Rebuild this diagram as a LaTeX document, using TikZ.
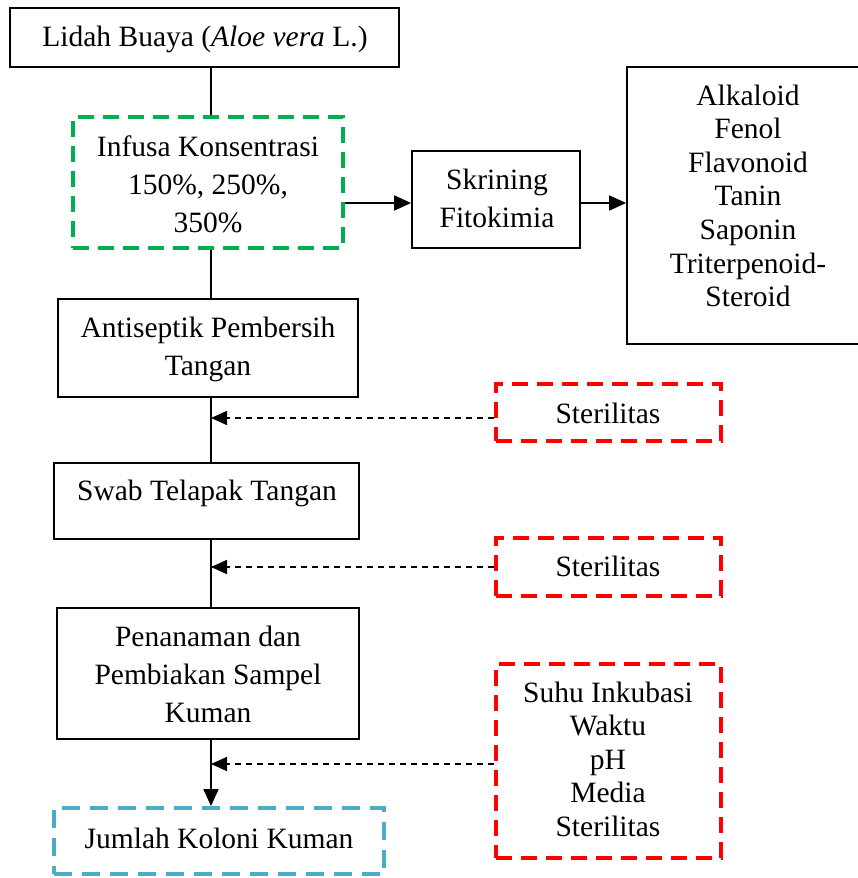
\documentclass[tikz,border=0pt]{standalone}
\usepackage{fontspec}
\setmainfont{Liberation Serif}
\usetikzlibrary{arrows.meta}
\definecolor{gdash}{HTML}{00B050}
\definecolor{bdash}{HTML}{4BACC6}
\definecolor{rdash}{HTML}{FF0000}
\newcommand{\mlines}[1]{\begin{tabular}[t]{@{}c@{}}#1\end{tabular}}
\begin{document}
\begin{tikzpicture}[x=1pt,y=-1pt,
  box/.style={draw=black, line width=1.8pt, rectangle, inner sep=0pt},
  gbox/.style={draw=gdash, line width=3.8pt, dash pattern=on 16pt off 9pt, rectangle, inner sep=0pt},
  bbox/.style={draw=bdash, line width=3.8pt, dash pattern=on 18pt off 10pt, rectangle, inner sep=0pt},
  rbox/.style={draw=rdash, line width=4pt, dash pattern=on 16pt off 9pt, rectangle, inner sep=0pt},
  txt/.style={anchor=base, inner sep=0pt, font=\fontsize{29.5}{38}\selectfont},
  ltxt/.style={anchor=base, inner sep=0pt, font=\fontsize{29.5}{33.6}\selectfont},
  conn/.style={draw=black, line width=1.8pt},
  arr/.style={conn, -{Triangle[length=17pt,width=15pt]}},
  darr/.style={draw=black, line width=1.6pt, dash pattern=on 6pt off 5pt, -{Triangle[length=16pt,width=14pt]}}
]
\useasboundingbox (0,0) rectangle (858,878);
\clip (0,0) rectangle (858,878);
\fill[white] (0,0) rectangle (858,878);

% boxes
\node[box,  minimum width=389pt, minimum height=59pt]  (lidah) at (204.5,37.5) {};
\node[gbox, minimum width=270pt, minimum height=131pt] (infusa) at (208,182.5) {};
\node[box,  minimum width=168pt, minimum height=97pt]  (skrin) at (496,199.5) {};
\node[box,  minimum width=290pt, minimum height=277pt] (list) at (772,205.5) {};
\node[box,  minimum width=300pt, minimum height=98pt]  (anti) at (208,348) {};
\node[box,  minimum width=305pt, minimum height=76pt]  (swab) at (206.5,501) {};
\node[box,  minimum width=302pt, minimum height=131pt] (tanam) at (208,673.5) {};
\node[bbox, minimum width=330pt, minimum height=66pt]  (jumlah) at (219,841) {};
\node[rbox, minimum width=225pt, minimum height=57pt]  (ster1) at (608.5,412.5) {};
\node[rbox, minimum width=225pt, minimum height=58pt]  (ster2) at (608.5,567) {};
\node[rbox, minimum width=225pt, minimum height=194pt] (param) at (608.5,761) {};

% texts
\node[txt] (tlidah) at (205,46) {Lidah Buaya (\textit{Aloe vera} L.)};
\node[txt] (tinfusa) at (208,156) {\mlines{Infusa Konsentrasi\\150\%, 250\%,\\350\%}};
\node[txt] (tskrin) at (497,189) {\mlines{Skrining\\Fitokimia}};
\node[ltxt] (tlist) at (748,105) {\mlines{Alkaloid\\Fenol\\Flavonoid\\Tanin\\Saponin\\Triterpenoid-\\Steroid}};
\node[txt] (tanti) at (208,337) {\mlines{Antiseptik Pembersih\\Tangan}};
\node[txt] (tswab) at (207,500) {Swab Telapak Tangan};
\node[txt] (ttanam) at (208,646) {\mlines{Penanaman dan\\Pembiakan Sampel\\Kuman}};
\node[txt] (tjumlah) at (219,848) {Jumlah Koloni Kuman};
\node[txt] (tster1) at (608,423) {Sterilitas};
\node[txt] (tster2) at (608,576) {Sterilitas};
\node[ltxt] (tparam) at (608,702) {\mlines{Suhu Inkubasi\\Waktu\\pH\\Media\\Sterilitas}};

% helper coordinates
\coordinate (vx) at (211,0);
\coordinate (ay) at (0,203);
\coordinate (d1) at (0,418);
\coordinate (d2) at (0,567);
\coordinate (d3) at (0,764);

% main vertical flow
\draw[conn] (lidah.south -| vx) -- (infusa.north -| vx);
\draw[conn] (infusa.south -| vx) -- (anti.north -| vx);
\draw[conn] (anti.south -| vx) -- (swab.north -| vx);
\draw[conn] (swab.south -| vx) -- (tanam.north -| vx);
\draw[arr] (tanam.south -| vx) -- (jumlah.north -| vx);

% horizontal flow
\draw[arr] (infusa.east |- ay) -- (skrin.west |- ay);
\draw[arr] (skrin.east |- ay) -- (list.west |- ay);

% dashed influences
\draw[darr] (ster1.west |- d1) -- (vx |- d1);
\draw[darr] (ster2.west |- d2) -- (vx |- d2);
\draw[darr] (param.west |- d3) -- (vx |- d3);
\end{tikzpicture}
\end{document}
